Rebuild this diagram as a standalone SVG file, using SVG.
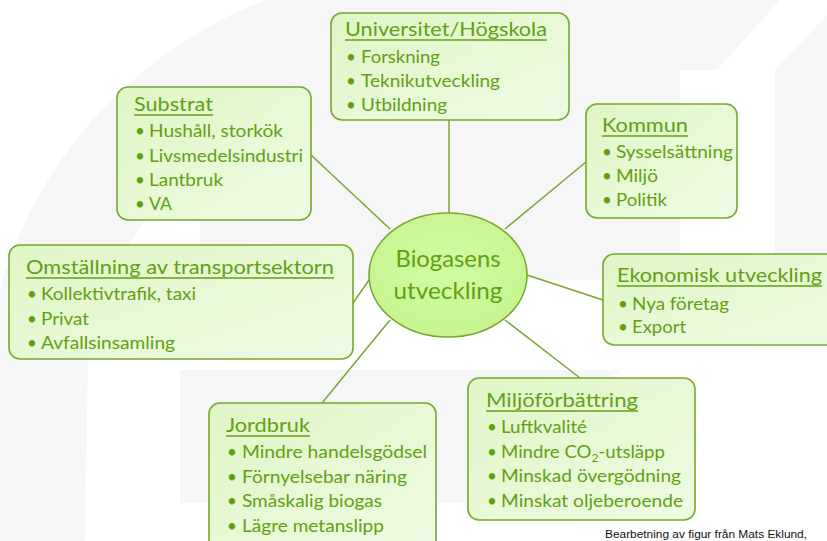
<svg xmlns="http://www.w3.org/2000/svg" width="827" height="541" viewBox="0 0 827 541">
<style>
.bg{fill:#f6f6f6}
.box{fill:url(#boxg);stroke:#77a82a;stroke-width:1.6}
.t{font-family:Lato,"Open Sans",sans-serif;fill:#62a012}
.ti{font-size:19px}
.b{font-size:17px}
.ul{stroke:#62a012;stroke-width:1.5}
.c{stroke:#7aa632;stroke-width:1.5;fill:none}
.ctr{font-size:23px;text-anchor:middle}
.cr{font-family:"Liberation Sans",Arial,sans-serif;font-size:10px;fill:#111}
</style>
<defs>
<linearGradient id="boxg" x1="0" y1="0" x2="1" y2="1">
<stop offset="0" stop-color="#dff6c6"/>
<stop offset="1" stop-color="#eefbe4"/>
</linearGradient>
<radialGradient id="ellg" cx="0.5" cy="0.45" r="0.6">
<stop offset="0" stop-color="#d2fba4"/>
<stop offset="1" stop-color="#c6f48e"/>
</radialGradient>
</defs>
<rect width="827" height="541" fill="#ffffff"/>
<g id="background">
<path class="bg" d="M265 0 L780 0 L717 70 L360 70 C220 110 110 220 88 360 L85 541 L0 541 L0 290 C40 150 140 50 265 0 Z"/>
<path class="bg" d="M827 15 L775 70 L775 280 L827 280 Z"/>
<path class="bg" d="M200 120 C250 90 300 75 360 70 L680 70 L680 280 L200 280 Z"/>
<path class="bg" d="M180 370 L620 370 C560 420 520 470 500 503 L180 503 Z"/>
</g>
<g id="connectors">
<line class="c" x1="449" y1="120" x2="449" y2="213"/>
<line class="c" x1="311" y1="155" x2="390" y2="229"/>
<line class="c" x1="586" y1="162" x2="505" y2="229"/>
<line class="c" x1="353" y1="303" x2="369" y2="280"/>
<line class="c" x1="527" y1="275" x2="603" y2="300"/>
<line class="c" x1="322" y1="403" x2="390" y2="320"/>
<line class="c" x1="580" y1="378" x2="505" y2="320"/>
</g>
<g id="center">
<ellipse cx="448" cy="275" rx="79" ry="62" fill="url(#ellg)" stroke="#77a82a" stroke-width="1.6"/>
<text class="t ctr" x="448" y="267" textLength="105" lengthAdjust="spacingAndGlyphs">Biogasens</text>
<text class="t ctr" x="448" y="299" textLength="109" lengthAdjust="spacingAndGlyphs">utveckling</text>
</g>
<g id="universitet">
<rect class="box" x="331" y="13" width="238" height="107" rx="11"/>
<text class="t ti" x="345" y="36" textLength="202" lengthAdjust="spacingAndGlyphs">Universitet/Högskola</text>
<line class="ul" x1="345" y1="40" x2="547" y2="40"/>
<text class="t b" x="346" y="63">•</text><text class="t b" x="361" y="63" textLength="79" lengthAdjust="spacingAndGlyphs">Forskning</text>
<text class="t b" x="346" y="87">•</text><text class="t b" x="361" y="87" textLength="139" lengthAdjust="spacingAndGlyphs">Teknikutveckling</text>
<text class="t b" x="346" y="111">•</text><text class="t b" x="361" y="111" textLength="86" lengthAdjust="spacingAndGlyphs">Utbildning</text>
</g>
<g id="substrat">
<rect class="box" x="117" y="87" width="194" height="133" rx="11"/>
<text class="t ti" x="134" y="111" textLength="79" lengthAdjust="spacingAndGlyphs">Substrat</text>
<line class="ul" x1="134" y1="115" x2="213" y2="115"/>
<text class="t b" x="135" y="137">•</text><text class="t b" x="149" y="137" textLength="134" lengthAdjust="spacingAndGlyphs">Hushåll, storkök</text>
<text class="t b" x="135" y="162">•</text><text class="t b" x="149" y="162" textLength="154" lengthAdjust="spacingAndGlyphs">Livsmedelsindustri</text>
<text class="t b" x="135" y="186">•</text><text class="t b" x="149" y="186" textLength="74" lengthAdjust="spacingAndGlyphs">Lantbruk</text>
<text class="t b" x="135" y="210">•</text><text class="t b" x="149" y="210" textLength="23" lengthAdjust="spacingAndGlyphs">VA</text>
</g>
<g id="kommun">
<rect class="box" x="586" y="104" width="151" height="114" rx="11"/>
<text class="t ti" x="602" y="132" textLength="86" lengthAdjust="spacingAndGlyphs">Kommun</text>
<line class="ul" x1="602" y1="136" x2="688" y2="136"/>
<text class="t b" x="602" y="158">•</text><text class="t b" x="616" y="158" textLength="117" lengthAdjust="spacingAndGlyphs">Sysselsättning</text>
<text class="t b" x="602" y="182">•</text><text class="t b" x="616" y="182" textLength="42" lengthAdjust="spacingAndGlyphs">Miljö</text>
<text class="t b" x="602" y="206">•</text><text class="t b" x="616" y="206" textLength="51" lengthAdjust="spacingAndGlyphs">Politik</text>
</g>
<g id="omstallning">
<rect class="box" x="9" y="245" width="344" height="114" rx="11"/>
<text class="t ti" x="26" y="274" textLength="308" lengthAdjust="spacingAndGlyphs">Omställning av transportsektorn</text>
<line class="ul" x1="26" y1="278" x2="334" y2="278"/>
<text class="t b" x="27" y="300">•</text><text class="t b" x="41" y="300" textLength="155" lengthAdjust="spacingAndGlyphs">Kollektivtrafik, taxi</text>
<text class="t b" x="27" y="325">•</text><text class="t b" x="41" y="325" textLength="48" lengthAdjust="spacingAndGlyphs">Privat</text>
<text class="t b" x="27" y="349">•</text><text class="t b" x="41" y="349" textLength="134" lengthAdjust="spacingAndGlyphs">Avfallsinsamling</text>
</g>
<g id="ekonomisk">
<rect class="box" x="603" y="254" width="240" height="91" rx="11"/>
<text class="t ti" x="617" y="282" textLength="205" lengthAdjust="spacingAndGlyphs">Ekonomisk utveckling</text>
<line class="ul" x1="617" y1="286" x2="822" y2="286"/>
<text class="t b" x="618" y="310">•</text><text class="t b" x="632" y="310" textLength="97" lengthAdjust="spacingAndGlyphs">Nya företag</text>
<text class="t b" x="618" y="333">•</text><text class="t b" x="632" y="333" textLength="54" lengthAdjust="spacingAndGlyphs">Export</text>
</g>
<g id="jordbruk">
<rect class="box" x="209" y="403" width="227" height="150" rx="11"/>
<text class="t ti" x="226" y="432" textLength="84" lengthAdjust="spacingAndGlyphs">Jordbruk</text>
<line class="ul" x1="226" y1="436" x2="310" y2="436"/>
<text class="t b" x="227" y="458">•</text><text class="t b" x="242" y="458" textLength="185" lengthAdjust="spacingAndGlyphs">Mindre handelsgödsel</text>
<text class="t b" x="227" y="483">•</text><text class="t b" x="242" y="483" textLength="165" lengthAdjust="spacingAndGlyphs">Förnyelsebar näring</text>
<text class="t b" x="227" y="507">•</text><text class="t b" x="242" y="507" textLength="140" lengthAdjust="spacingAndGlyphs">Småskalig biogas</text>
<text class="t b" x="227" y="532">•</text><text class="t b" x="242" y="532" textLength="142" lengthAdjust="spacingAndGlyphs">Lägre metanslipp</text>
</g>
<g id="miljoforbattring">
<rect class="box" x="468" y="378" width="227" height="142" rx="11"/>
<text class="t ti" x="486" y="407" textLength="152" lengthAdjust="spacingAndGlyphs">Miljöförbättring</text>
<line class="ul" x1="486" y1="411" x2="638" y2="411"/>
<text class="t b" x="487" y="433">•</text><text class="t b" x="501" y="433" textLength="86" lengthAdjust="spacingAndGlyphs">Luftkvalité</text>
<text class="t b" x="487" y="458">•</text><text class="t b" x="501" y="458" textLength="164" lengthAdjust="spacingAndGlyphs">Mindre CO<tspan font-size="11" dy="4">2</tspan><tspan dy="-4">-utsläpp</tspan></text>
<text class="t b" x="487" y="482">•</text><text class="t b" x="501" y="482" textLength="180" lengthAdjust="spacingAndGlyphs">Minskad övergödning</text>
<text class="t b" x="487" y="507">•</text><text class="t b" x="501" y="507" textLength="182" lengthAdjust="spacingAndGlyphs">Minskat oljeberoende</text>
</g>
<g id="credit">
<text class="cr" x="605" y="538" textLength="202" lengthAdjust="spacingAndGlyphs">Bearbetning av figur från Mats Eklund,</text>
</g>
</svg>
